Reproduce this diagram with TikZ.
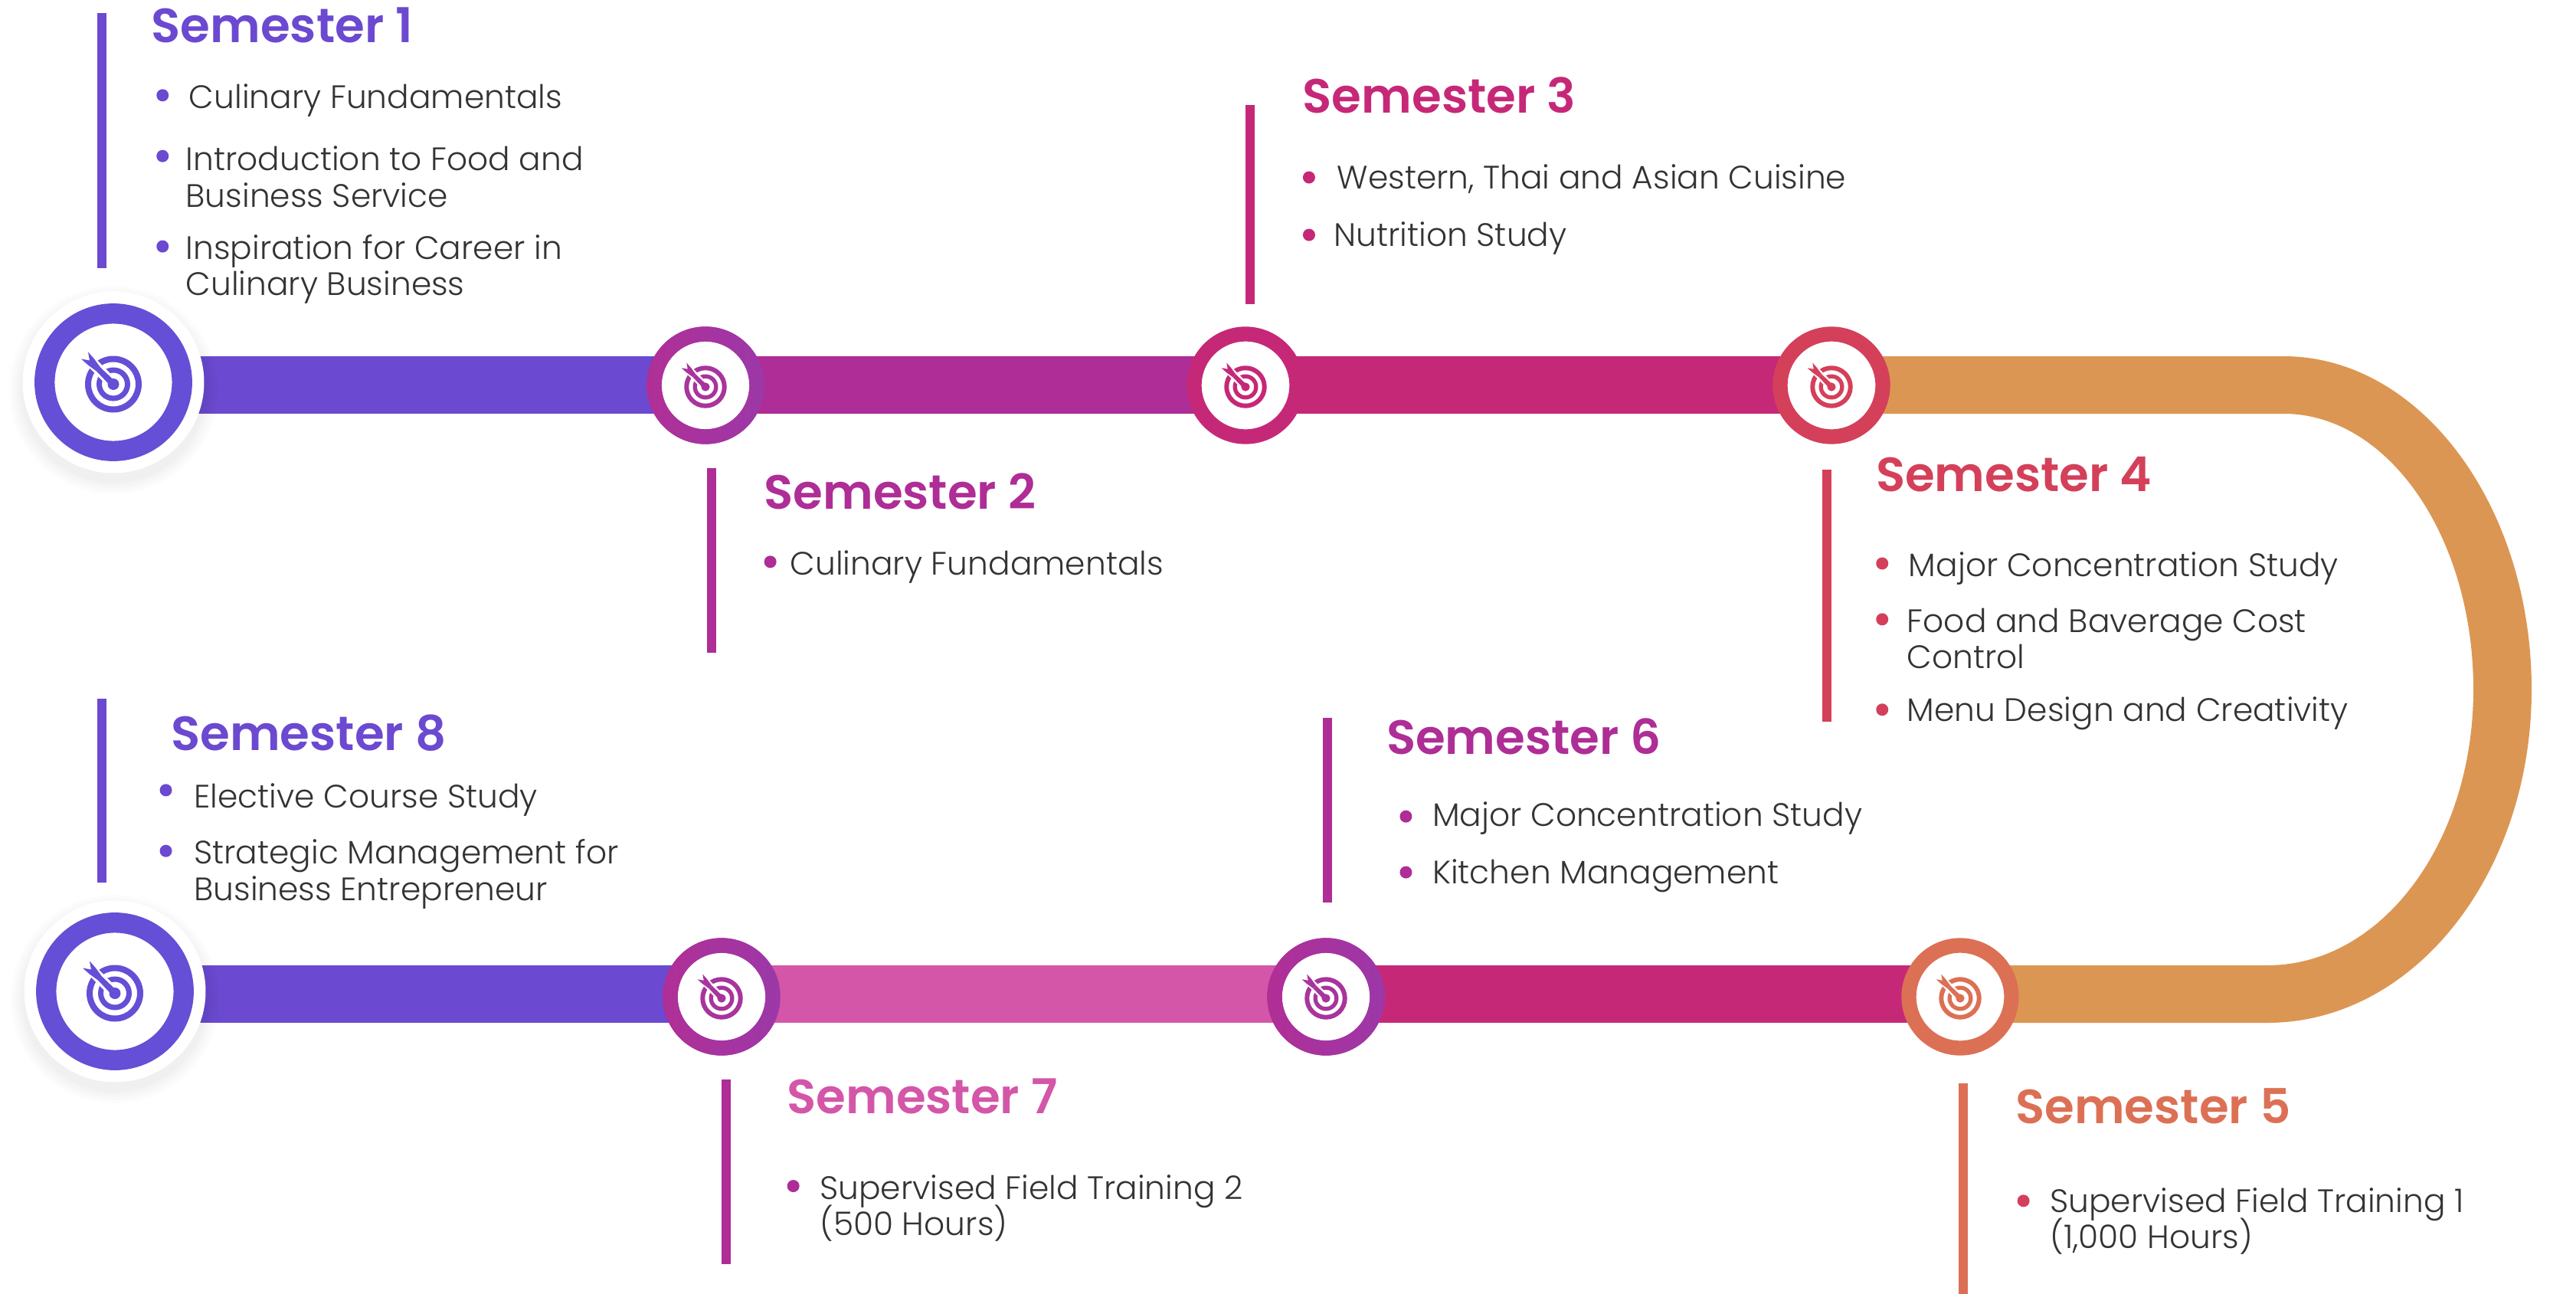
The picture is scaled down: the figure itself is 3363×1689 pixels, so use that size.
\documentclass[tikz,border=0pt]{standalone}
\usepackage{fontspec}
\usetikzlibrary{backgrounds}
\setmainfont{Poppins}[UprightFont=* Light,BoldFont=* SemiBold]
\definecolor{cPur}{HTML}{6B49D0}
\definecolor{cPurR}{HTML}{644FD6}
\definecolor{cMag}{HTML}{AE2D96}
\definecolor{cMagR}{HTML}{A8349C}
\definecolor{cMagL}{HTML}{B02F96}
\definecolor{cMagD}{HTML}{9C38A8}
\definecolor{cCri}{HTML}{C62878}
\definecolor{cRed}{HTML}{D4405A}
\definecolor{cSal}{HTML}{DC7055}
\definecolor{cPin}{HTML}{D456A8}
\definecolor{cOra}{HTML}{DC9653}
\definecolor{cTxt}{HTML}{333333}
\tikzset{
  ringbig/.style={circle,draw=#1,fill=white,line width=15pt,inner sep=0pt,minimum size=3.59cm},
  ringsmall/.style={circle,draw=#1,fill=white,line width=11pt,inner sep=0pt,minimum size=2.68cm},
  halo/.style={circle,fill=white,inner sep=0pt,minimum size=4.74cm},
  bar/.style={line width=42.67pt,draw=#1},
  sideline/.style={line width=6.8pt,draw=#1},
  head/.style={anchor=base west,inner sep=0pt,text=#1,font=\fontsize{35.7}{35.7}\selectfont\bfseries},
  body/.style={anchor=base west,inner sep=0pt,text=cTxt,font=\fontsize{24.1}{24.1}\selectfont},
  dot/.style={circle,fill=#1,inner sep=0pt,minimum size=0.32cm}
}
\newcommand{\tgt}[4]{%
\begin{scope}[shift={(#1,#2)},scale=#3]
\fill[#4,even odd rule] (0,0) circle (37) (0,0) circle (29);
\fill[#4,even odd rule] (0,0) circle (22) (0,0) circle (15);
\fill[white] (5,-5) -- (-5,5) -- (-36,-26) -- (-26,-36) -- cycle;
\fill[#4] (0,0) circle (7.5);
\fill[#4] (3,-3) -- (-3,3) -- (-22,-17) -- (-17,-22) -- cycle;
\fill[#4] (-33,-42) -- (-25,-33) -- (-17,-22) -- (-22,-17) -- (-33,-25) -- (-42,-33) -- (-31,-31) -- cycle;
\end{scope}}
\newcommand{\gradring}[2]{\shade[even odd rule,left color=cMagL,right color=cMagD] (#1,#2) circle (76.7) (#1,#2) circle (57.3);}
\begin{document}
\begin{tikzpicture}[x=0.02cm,y=-0.02cm]
\useasboundingbox (0,0) rectangle (3363,1689);
\coordinate (up) at (0,502.5);
\coordinate (lo) at (0,1297.5);
% shadows of the large circles
\foreach \cx/\cy in {148/499,150/1294}{
  \foreach \r in {136,132,128,124,121}{\fill[black,opacity=0.012] (\cx,\cy+10) circle (\r);}
}
\node[halo] (h1) at (148,499) {};
\node[halo] (h8) at (150,1294) {};
\node[ringbig=cPurR] (c1) at (148,499) {};
\node[ringsmall=cMagR] (c2) at (921,503) {};
\node[ringsmall=cCri] (c3) at (1626,503) {};
\node[ringsmall=cRed] (c4) at (2391,503) {};
\node[ringsmall=cSal] (c5) at (2559,1301) {};
\node[ringsmall=cMagR] (c6) at (1731,1301) {};
\node[ringsmall=cMagR] (c7) at (942,1301) {};
\node[ringbig=cPurR] (c8) at (150,1294) {};
\gradring{921}{503}
\gradring{1731}{1301}
\gradring{942}{1301}
\begin{scope}[on background layer]
  \draw[bar=cPur] (c1.center |- up) -- (c2.center |- up);
  \draw[bar=cMag] (c2.center |- up) -- (c3.center |- up);
  \draw[bar=cCri] (c3.center |- up) -- (c4.center |- up);
  \draw[bar=cPur] (c8.center |- lo) -- (c7.center |- lo);
  \draw[bar=cPin] (c7.center |- lo) -- (c6.center |- lo);
  \draw[bar=cCri] (c6.center |- lo) -- (c5.center |- lo);
  \fill[cOra] (c4.center |- 0,465) -- (2981,465)
    .. controls (3160,465) and (3305,660) .. (3305,900)
    .. controls (3305,1141) and (3151,1335) .. (2960,1335)
    -- (c5.center |- 0,1335) -- (c5.center |- 0,1260) -- (2960,1260)
    .. controls (3109,1260) and (3229,1100) .. (3229,900)
    .. controls (3229,701) and (3118,540) .. (2981,540)
    -- (c4.center |- 0,540) -- cycle;
\end{scope}
\tgt{148}{501.5}{1}{cPurR}
\tgt{921}{505}{0.75}{cMagR}
\tgt{1626}{505}{0.75}{cCri}
\tgt{2391}{505}{0.75}{cRed}
\tgt{2559}{1303}{0.75}{cSal}
\tgt{1731}{1303}{0.75}{cMagR}
\tgt{942}{1303}{0.75}{cMagR}
\tgt{150}{1296.5}{1}{cPurR}
% side rules
\draw[sideline=cPur] (133,17) -- (133,350);
\draw[sideline=cMag] (929,611) -- (929,852);
\draw[sideline=cCri] (1632,137) -- (1632,397);
\draw[sideline=cRed] (2385,613) -- (2385,942);
\draw[sideline=cSal] (2563,1414) -- (2563,1689);
\draw[sideline=cMag] (1733,937) -- (1733,1178);
\draw[sideline=cMag] (948,1409) -- (948,1650);
\draw[sideline=cPur] (133,912) -- (133,1152);
\begin{scope}[x=0.0429cm,y=-0.0429cm]
% Semester 1
\node[head=cPur] (s1) at (92,26) {Semester 1};
\node[dot=cPur] (d11) at (99,58) {};
\node[dot=cPur] (d12) at (99,95) {};
\node[dot=cPur] (d13) at (99,150) {};
\node[body] (t11) at (115,66) {Culinary Fundamentals};
\node[body] (t12) at (113,104) {Introduction to Food and};
\node[body] (t12b) at (113,126) {Business Service};
\node[body] (t13) at (113,158) {Inspiration for Career in};
\node[body] (t13b) at (113,180) {Culinary Business};
% Semester 2
\node[head=cMag] (s2) at (465,310) {Semester 2};
\node[dot=cMag] (d21) at (469,342) {};
\node[body] (t21) at (481,350) {Culinary Fundamentals};
% Semester 3
\node[head=cCri] (s3) at (793,69) {Semester 3};
\node[dot=cCri] (d31) at (797,108) {};
\node[dot=cCri] (d32) at (797,143) {};
\node[body] (t31) at (814,115) {Western, Thai and Asian Cuisine};
\node[body] (t32) at (812,150) {Nutrition Study};
% Semester 4
\node[head=cRed] (s4) at (1142,299) {Semester 4};
\node[dot=cRed] (d41) at (1146,343) {};
\node[dot=cRed] (d42) at (1146,377) {};
\node[dot=cRed] (d43) at (1146,432) {};
\node[body] (t41) at (1162,351) {Major Concentration Study};
\node[body] (t42) at (1161,385) {Food and Baverage Cost};
\node[body] (t42b) at (1161,407) {Control};
\node[body] (t43) at (1161,439) {Menu Design and Creativity};
% Semester 5
\node[head=cSal] (s5) at (1227,684) {Semester 5};
\node[dot=cRed] (d51) at (1232,731) {};
\node[body] (t51) at (1248,738) {Supervised Field Training 1};
\node[body] (t51b) at (1248,760) {(1,000 Hours)};
% Semester 6
\node[head=cMag] (s6) at (844,459) {Semester 6};
\node[dot=cMag] (d61) at (856,497) {};
\node[dot=cMag] (d62) at (856,531) {};
\node[body] (t61) at (872,503) {Major Concentration Study};
\node[body] (t62) at (872,538) {Kitchen Management};
% Semester 7
\node[head=cPin] (s7) at (479,678) {Semester 7};
\node[dot=cMag] (d71) at (483,722) {};
\node[body] (t71) at (499,730) {Supervised Field Training 2};
\node[body] (t71b) at (499,752) {(500 Hours)};
% Semester 8
\node[head=cPur] (s8) at (104,457) {Semester 8};
\node[dot=cPur] (d81) at (101,481) {};
\node[dot=cPur] (d82) at (101,518) {};
\node[body] (t81) at (118,492) {Elective Course Study};
\node[body] (t82) at (118,526) {Strategic Management for};
\node[body] (t82b) at (118,548) {Business Entrepreneur};
\end{scope}
\end{tikzpicture}
\end{document}
